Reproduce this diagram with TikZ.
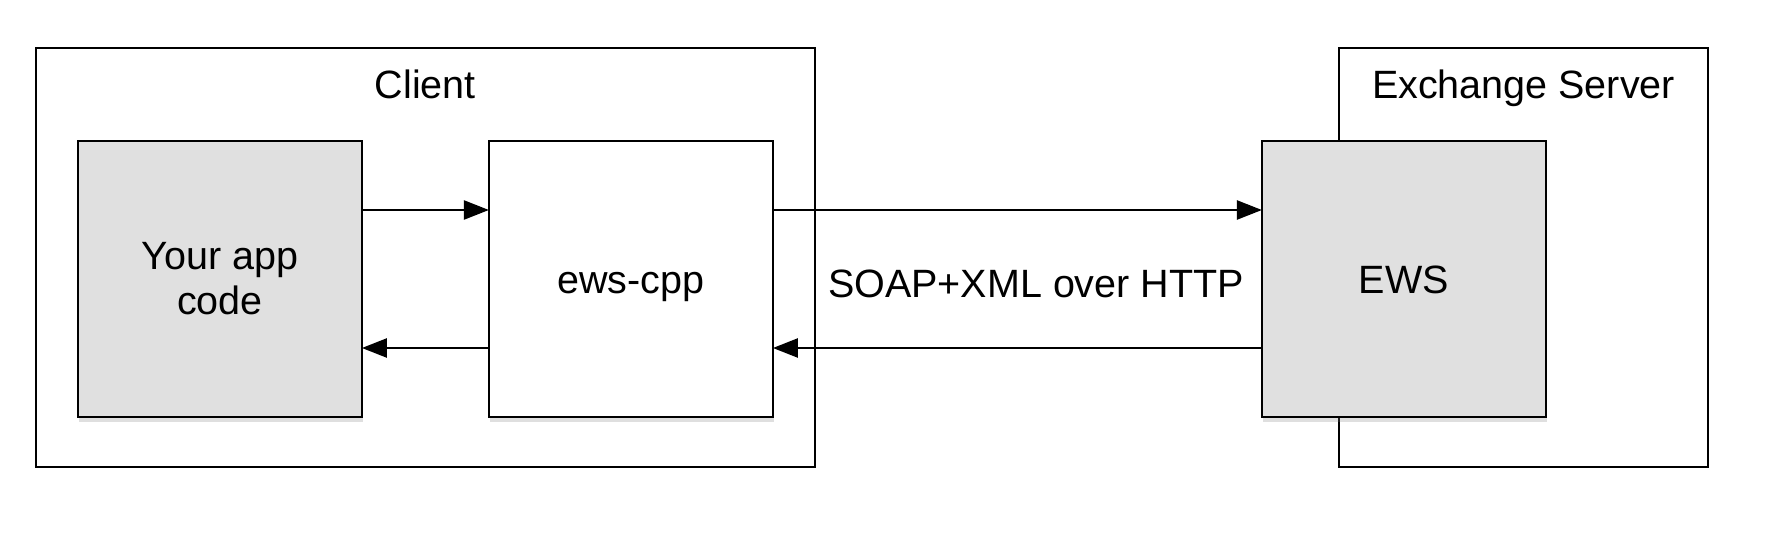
\documentclass[tikz,border=0pt]{standalone}
\usepackage{fontspec}
\setmainfont{Liberation Sans}
\usetikzlibrary{positioning,arrows.meta,shadows}
\tikzset{node distance=127pt,
  bigfont/.style={font=\fontsize{39.5}{45}\selectfont},
  outer/.style={draw,line width=2.2pt,minimum height=419pt,inner sep=0pt,outer sep=0pt},
  block/.style={draw,line width=2.4pt,minimum width=284pt,minimum height=276pt,inner sep=0pt,outer sep=0pt,
    bigfont,drop shadow={shadow xshift=1pt,shadow yshift=-5pt,opacity=0.25}},
  grey/.style={block,fill=black!12},
  plain/.style={block,fill=white},
  oneline/.style={text height=28pt,text depth=0pt},
  heading/.style={anchor=base,bigfont},
  msg/.style={line width=2.4pt,-{Triangle[length=25pt,width=19pt]}}}

\begin{document}
\begin{tikzpicture}[x=1pt,y=-1pt]
	\useasboundingbox (0,0) rectangle (1780,540);

	\node[outer,minimum width=779pt] (client) at (425.3,257.5) {};
	\node[outer,minimum width=369pt] (exch) at (1523.5,257.5) {};
	\node[heading] at ([yshift=-51pt]client.north) {Client};
	\node[heading] at ([yshift=-51pt]exch.north) {Exchange Server};

	\node[grey,align=center] (app) at (219.9,279) {Your app\\code};
	\node[plain,oneline] (ewscpp) [right=of app] {ews-cpp};
	\node[grey,oneline] (ews) [right=489pt of ewscpp] {EWS};

	\draw[msg] ([yshift=69pt]app.east) -- ([yshift=69pt]ewscpp.west);
	\draw[msg] ([yshift=-69pt]ewscpp.west) -- ([yshift=-69pt]app.east);
	\draw[msg] ([yshift=69pt]ewscpp.east) -- ([yshift=69pt]ews.west);
	\draw[msg] ([yshift=-69pt]ews.west) -- ([yshift=-69pt]ewscpp.east);

	\node[heading] (soap) at (1036,297) {SOAP+XML over HTTP};
\end{tikzpicture}
\end{document}
